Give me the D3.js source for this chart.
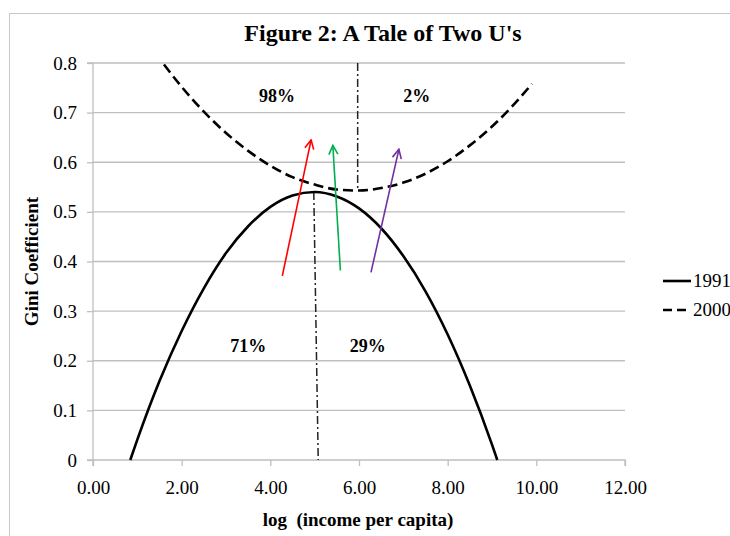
<!DOCTYPE html>
<html><head><meta charset="utf-8">
<script src="https://cdn.jsdelivr.net/npm/d3@7"></script>
<style>
html,body{margin:0;padding:0;background:#fff;}
svg{display:block;font-family:"Liberation Serif","Times New Roman",serif;}
svg text{font-family:"Liberation Serif","Times New Roman",serif;}
</style></head>
<body><svg id="c" width="730" height="536"></svg>
<script>
// ---- data ----
const xTicks = [0, 2, 4, 6, 8, 10, 12];
const xTickLabels = ["0.00", "2.00", "4.00", "6.00", "8.00", "10.00", "12.00"];
const yTicks = [0, 0.1, 0.2, 0.3, 0.4, 0.5, 0.6, 0.7, 0.8];
const yTickLabels = ["0", "0.1", "0.2", "0.3", "0.4", "0.5", "0.6", "0.7", "0.8"];
const x1991 = [0.84, 1.0, 1.5, 2.0, 2.5, 3.0, 3.5, 4.0, 4.5, 5.0, 5.5, 6.0, 6.5, 7.0, 7.5, 8.0, 8.5, 9.0, 9.12];
const gini1991 = [0, 0.041, 0.159, 0.260, 0.346, 0.417, 0.471, 0.510, 0.533, 0.540, 0.531, 0.507, 0.467, 0.411, 0.340, 0.253, 0.150, 0.031, 0];
const x2000 = [1.6, 2.0, 2.5, 3.0, 3.5, 4.0, 4.5, 5.0, 5.5, 6.0, 6.5, 7.0, 7.5, 8.0, 8.5, 9.0, 9.5, 9.9];
const gini2000 = [0.797, 0.752, 0.702, 0.659, 0.623, 0.593, 0.570, 0.555, 0.545, 0.543, 0.548, 0.559, 0.577, 0.602, 0.634, 0.672, 0.717, 0.758];
const seriesNames = ["1991", "2000"];
// divider lines (data units)
const dividerX1 = [4.98, 5.97];
const dividerY1 = [0.540, 0.8];
const dividerX2 = [5.08, 5.97];
const dividerY2 = [0, 0.543];
// arrows (data units)
const arrowX1 = [4.27, 5.58, 6.27];
const arrowY1 = [0.371, 0.382, 0.378];
const arrowX2 = [4.92, 5.41, 6.90];
const arrowY2 = [0.645, 0.634, 0.626];
const arrowColors = ["#ff0000", "#00b050", "#7030a0"];
// share labels
const shareLabels = ["98%", "2%", "71%", "29%"];
const shareX = [4.15, 7.30, 3.50, 6.20];
const shareY = [0.722, 0.722, 0.217, 0.217];

// ---- chart ----
const svg = d3.select("#c");
const x = d3.scaleLinear().domain([0, 12]).range([93, 625]);
const y = d3.scaleLinear().domain([0, 0.8]).range([460, 63]);
const grid = "#bfbfbf";
const serif = "Liberation Serif, Times New Roman, serif";

// outer border
svg.append("rect").attr("x", 9.5).attr("y", 13.5).attr("width", 740).attr("height", 540)
  .attr("fill", "none").attr("stroke", "#c8c8c8").attr("stroke-width", 1);

// title
svg.append("text").attr("x", 383).attr("y", 41).attr("text-anchor", "middle")
  .attr("font-size", 24).attr("font-weight", "bold").text("Figure 2: A Tale of Two U's");

// gridlines
svg.append("g").selectAll("line").data(yTicks.filter(d => d > 0)).join("line")
  .attr("x1", x(0)).attr("x2", x(12)).attr("y1", d => y(d)).attr("y2", d => y(d))
  .attr("stroke", grid).attr("stroke-width", 1.3);

// axes
const yAxis = d3.axisLeft(y).tickValues(yTicks).tickSize(6).tickPadding(10)
  .tickFormat((d, i) => yTickLabels[i]);
const gy = svg.append("g").attr("transform", `translate(${x(0)},0)`).call(yAxis);
const xAxis = d3.axisBottom(x).tickValues(xTicks).tickSize(6).tickPadding(15)
  .tickFormat((d, i) => xTickLabels[i]);
const gx = svg.append("g").attr("transform", `translate(0,${y(0)})`).call(xAxis);
[gx, gy].forEach(g => {
  g.attr("font-family", serif).attr("font-size", 19);
  g.select(".domain").attr("stroke", grid).attr("stroke-width", 1.3);
  g.selectAll(".tick line").attr("stroke", grid).attr("stroke-width", 1.3);
  g.selectAll(".tick text").attr("fill", "#000");
});
gx.select(".domain").attr("d", `M${x(0)},6V0H${x(12)}V6`);
gy.select(".domain").attr("d", `M-6,${y(0.8)}H0V${y(0)}H-6`);

// axis titles
svg.append("text").attr("transform", `translate(38,${(y(0)+y(0.8))/2}) rotate(-90)`)
  .attr("text-anchor", "middle").attr("font-size", 19).attr("font-weight", "bold").text("Gini Coefficient");
svg.append("text").attr("x", 358).attr("y", 526).attr("text-anchor", "middle")
  .attr("font-size", 19).attr("font-weight", "bold").style("white-space", "pre")
  .text("log  (income per capita)");

// divider lines
svg.append("g").selectAll("line").data(dividerX1).join("line")
  .attr("x1", (d, i) => x(dividerX1[i])).attr("y1", (d, i) => y(dividerY1[i]))
  .attr("x2", (d, i) => x(dividerX2[i])).attr("y2", (d, i) => y(dividerY2[i]))
  .attr("stroke", "#222").attr("stroke-width", 1.5).attr("stroke-dasharray", "8,3,2,3");

// curves
const line = d3.line().x(d => x(d[0])).y(d => y(d[1])).curve(d3.curveMonotoneX);
svg.append("path").datum(x1991.map((v, i) => [v, gini1991[i]])).attr("d", line)
  .attr("fill", "none").attr("stroke", "#000").attr("stroke-width", 2.6);
svg.append("path").datum(x2000.map((v, i) => [v, gini2000[i]])).attr("d", line)
  .attr("fill", "none").attr("stroke", "#000").attr("stroke-width", 2.6).attr("stroke-dasharray", "10,5");

// arrows
const defs = svg.append("defs");
arrowColors.forEach((c, i) => {
  defs.append("marker").attr("id", "ah" + i).attr("viewBox", "0 0 12 12").attr("refX", 11).attr("refY", 6)
    .attr("markerWidth", 12).attr("markerHeight", 12).attr("markerUnits", "userSpaceOnUse").attr("orient", "auto")
    .append("path").attr("d", "M2,1.5 L11,6 L2,10.5").attr("fill", "none").attr("stroke", c).attr("stroke-width", 1.6);
});
svg.append("g").selectAll("line").data(arrowColors).join("line")
  .attr("x1", (d, i) => x(arrowX1[i])).attr("y1", (d, i) => y(arrowY1[i]))
  .attr("x2", (d, i) => x(arrowX2[i])).attr("y2", (d, i) => y(arrowY2[i]))
  .attr("stroke", d => d).attr("stroke-width", 1.6).attr("marker-end", (d, i) => `url(#ah${i})`);

// share labels
svg.append("g").selectAll("text").data(shareLabels).join("text")
  .attr("x", (d, i) => x(shareX[i])).attr("y", (d, i) => y(shareY[i])).attr("text-anchor", "middle")
  .attr("font-size", 18).attr("font-weight", "bold").text(d => d);

// legend
const leg = svg.append("g");
seriesNames.forEach((n, i) => {
  const ly = 281 + i * 29;
  leg.append("line").attr("x1", 663).attr("x2", 691).attr("y1", ly).attr("y2", ly)
    .attr("stroke", "#000").attr("stroke-width", 2.6).attr("stroke-dasharray", i ? "9,5" : null);
  leg.append("text").attr("x", 693).attr("y", ly + 6).attr("font-size", 19).text(n);
});
</script></body></html>
